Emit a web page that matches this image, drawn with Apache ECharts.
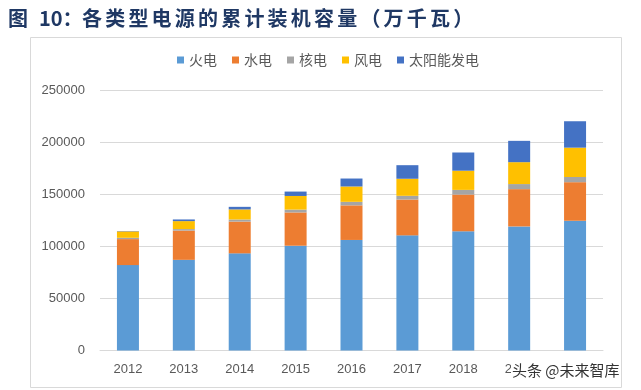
<!DOCTYPE html>
<html>
<head>
<meta charset="utf-8">
<script src="https://cdn.jsdelivr.net/npm/echarts@6/dist/echarts.min.js"></script>
<style>html,body{margin:0;padding:0;background:#fff}#c{width:641px;height:390px}</style>
</head>
<body>
<div id="c"></div>
<script>
const titlePrefix = '图';
const titleNum = '10：';
const titleMain = '各类型电源的累计装机容量（万千瓦）';
const years = ['2012','2013','2014','2015','2016','2017','2018','2019','2020'];
const seriesNames = ['火电','水电','核电','风电','太阳能发电'];
const thermal = [81968, 87009, 93232, 100554, 106094, 110495, 114408, 119055, 124517];
const hydro   = [24947, 28044, 30486, 31954, 33207, 34377, 35259, 35804, 37016];
const nuclear = [1257, 1466, 2008, 2717, 3364, 3582, 4466, 4874, 4989];
const wind    = [6142, 7652, 9657, 13075, 14747, 16367, 18427, 21005, 28153];
const solar   = [341, 1589, 2486, 4218, 7631, 13025, 17463, 20468, 25343];
const yTicks = [0, 50000, 100000, 150000, 200000, 250000];
const colors = ['#5B9BD5','#ED7D31','#A5A5A5','#FFC000','#4472C4'];
const watermark = '头条 @未来智库';

const seriesData = [thermal, hydro, nuclear, wind, solar];
const titleStyle = {fontSize: 20, fontWeight: 'bold', fill: '#1F3864', fontFamily: 'Noto Sans CJK SC', textVerticalAlign: 'middle'};
const titleGraphics = [
  {type: 'text', x: 8, y: 18, style: Object.assign({text: titlePrefix}, titleStyle)},
  {type: 'text', x: 39, y: 18, style: Object.assign({text: titleNum}, titleStyle)}
].concat(Array.from(titleMain).map((ch, i) => ({
  type: 'text', x: 82 + i * 23.2, y: 18, style: Object.assign({text: ch}, titleStyle)
})));

const chart = echarts.init(document.getElementById('c'));
chart.setOption({
  animation: false,
  color: colors,
  graphic: [
    {type: 'rect', shape: {x: 30.5, y: 37.5, width: 591, height: 350}, style: {fill: 'none', stroke: '#d9d9d9', lineWidth: 1}, z: -1},
    {type: 'text', left: 511, top: 362, z: 100,
     style: {text: watermark, fontSize: 15, fill: '#333', fontFamily: 'Noto Sans CJK SC', backgroundColor: '#fff', padding: [1, 0, 1, 1]}}
  ].concat(titleGraphics),
  legend: {
    data: seriesNames, top: 48, left: 172,
    icon: 'rect', itemWidth: 7, itemHeight: 7, itemGap: 15,
    textStyle: {fontSize: 14, color: '#595959', fontFamily: 'Noto Sans CJK SC'}
  },
  grid: {left: 100, right: 38, top: 90, bottom: 39.5},
  xAxis: {
    type: 'category', data: years,
    axisLine: {lineStyle: {color: '#d9d9d9'}}, axisTick: {show: false},
    axisLabel: {fontSize: 13, color: '#595959', margin: 12, fontFamily: 'Liberation Sans'}
  },
  yAxis: {
    type: 'value', min: yTicks[0], max: yTicks[yTicks.length - 1], interval: 50000,
    axisLine: {show: false}, axisTick: {show: false},
    axisLabel: {fontSize: 13, color: '#595959', margin: 15, fontFamily: 'Liberation Sans', formatter: v => String(v)},
    splitLine: {lineStyle: {color: '#d9d9d9'}}
  },
  series: seriesNames.map((n, i) => ({
    name: n, type: 'bar', stack: 'total', barWidth: 22, data: seriesData[i]
  }))
});
</script>
</body>
</html>
